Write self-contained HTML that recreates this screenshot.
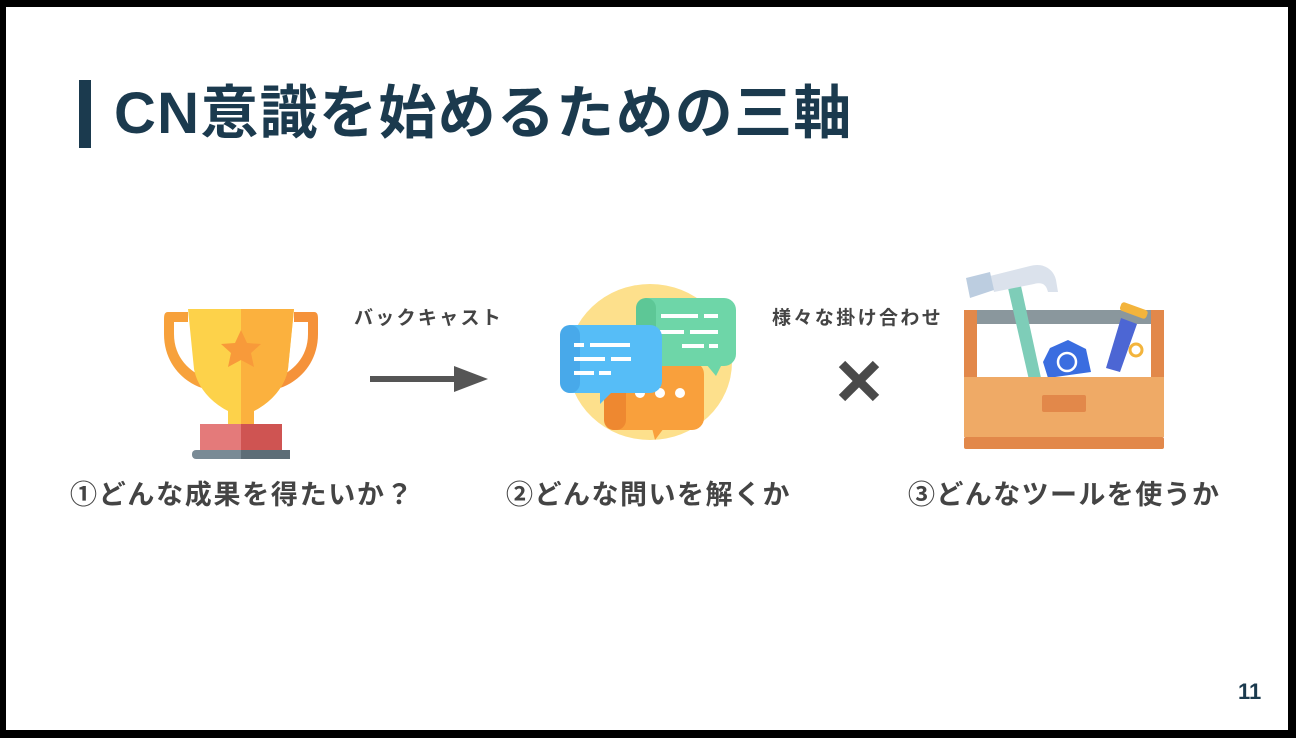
<!DOCTYPE html>
<html><head><meta charset="utf-8"><style>
html,body{margin:0;padding:0;}
body{width:1296px;height:738px;background:#000;position:relative;overflow:hidden;font-family:"Liberation Sans","Noto Sans CJK JP",sans-serif;}
#w{position:absolute;left:6px;top:7px;width:1282px;height:723px;background:#fff;}
.t{position:absolute;white-space:nowrap;}
</style></head><body>
<div id="w"></div>
<div style="position:absolute;left:79px;top:80px;width:12px;height:68px;background:#1b3a4e"></div>
<div class="t" style="left:114px;top:78px;font-size:58px;font-weight:bold;color:#1b3a4e;line-height:72px;letter-spacing:1.3px">CN意識を始めるための三軸</div>

<div class="t" style="left:354px;top:306px;font-size:19px;font-weight:bold;color:#444;line-height:26px;letter-spacing:2.3px">バックキャスト</div>
<div class="t" style="left:772px;top:306px;font-size:19px;font-weight:bold;color:#444;line-height:26px;letter-spacing:2.4px">様々な掛け合わせ</div>

<svg style="position:absolute;left:0;top:0" width="1296" height="738">
 <rect x="370" y="376" width="90" height="6" fill="#555"/>
 <polygon points="454,366 488,379 454,392" fill="#555"/>
 <g stroke="#4a4a4a" stroke-width="9"><line x1="842" y1="364" x2="876" y2="398"/><line x1="876" y1="364" x2="842" y2="398"/></g>
 <!-- trophy -->
 <path d="M188,312 h-20 c-4,0 -4,4 -4,8 v14 c0,30 20,48 38,54 l4,-10 c-16,-6 -32,-20 -32,-44 v-12 h14 z" fill="#f7a13b"/>
 <path d="M294,312 h20 c4,0 4,4 4,8 v14 c0,30 -20,48 -38,54 l-4,-10 c16,-6 32,-20 32,-44 v-12 h-14 z" fill="#f5923a"/>
 <path d="M188,309 h106 l-6,60 c-4,22 -22,36 -34,42 v14 c0,6 16,6 16,14 v10 h-58 v-10 c0,-8 16,-8 16,-14 v-14 c-12,-6 -30,-20 -34,-42 z" fill="#fdd24a"/>
 <path d="M241,309 h53 l-6,60 c-4,22 -22,36 -34,42 v14 c0,6 16,6 16,14 v10 h-29 z" fill="#fbb13e"/>
 <polygon points="241,330 247,343 261,344 251,353 254,367 241,360 228,367 231,353 221,344 235,343" fill="#f89a3a"/>
 <rect x="200" y="424" width="82" height="28" fill="#e47a7a"/>
 <rect x="241" y="424" width="41" height="28" fill="#cf5452"/>
 <rect x="192" y="450" width="98" height="9" rx="4" fill="#798a95"/>
 <rect x="241" y="450" width="49" height="9" fill="#5d6d77"/>
 <!-- chat -->
 <ellipse cx="650" cy="362" rx="82" ry="78" fill="#fde08c"/>
 <rect x="604" y="362" width="100" height="68" rx="12" fill="#f9a03c"/>
 <rect x="604" y="362" width="22" height="68" rx="10" fill="#ee8830"/>
 <polygon points="652,428 664,428 655,440" fill="#f9a03c"/>
 <circle cx="640" cy="393" r="5" fill="#fff"/><circle cx="660" cy="393" r="5" fill="#fff"/><circle cx="680" cy="393" r="5" fill="#fff"/>
 <rect x="636" y="298" width="100" height="68" rx="12" fill="#6ed6a8"/>
 <rect x="636" y="298" width="20" height="68" rx="10" fill="#5dc796"/>
 <polygon points="706,364 722,364 716,376" fill="#6ed6a8"/>
 <g fill="#fff"><rect x="661" y="314" width="37" height="4"/><rect x="704" y="314" width="14" height="4"/><rect x="660" y="330" width="24" height="4"/><rect x="690" y="330" width="28" height="4"/><rect x="682" y="344" width="22" height="4"/><rect x="709" y="344" width="9" height="4"/></g>
 <rect x="560" y="325" width="102" height="68" rx="12" fill="#56bdf7"/>
 <rect x="560" y="325" width="20" height="68" rx="10" fill="#48a9ea"/>
 <polygon points="600,392 612,392 600,404" fill="#56bdf7"/>
 <g fill="#fff"><rect x="574" y="343" width="10" height="4"/><rect x="590" y="343" width="40" height="4"/><rect x="574" y="357" width="31" height="4"/><rect x="611" y="357" width="20" height="4"/><rect x="574" y="371" width="20" height="4"/><rect x="599" y="371" width="12" height="4"/></g>
 <!-- toolbox -->
 <rect x="964" y="310" width="200" height="70" fill="#fff"/>
 <rect x="964" y="310" width="200" height="14" fill="#8a979d"/>
 <rect x="964" y="310" width="13" height="70" fill="#e2884a"/>
 <rect x="1151" y="310" width="13" height="70" fill="#e2884a"/>
 <polygon points="1008,288 1021,286 1041,378 1029,380" fill="#7ecdb8"/>
 <path d="M990,276 L1030,266 c14,-4 24,4 26,14 l2,12 h-10 c-2,-8 -6,-10 -14,-8 l-40,8 z" fill="#dbe2ec"/>
 <polygon points="966,278 990,272 994,290 970,298" fill="#bccde0"/>
 <polygon points="1068,340 1086,349 1091,372 1048,378 1043,362 1050,348" fill="#3a6de0"/>
 <circle cx="1067" cy="362" r="9" fill="none" stroke="#fff" stroke-width="2.5"/>
 <polygon points="1121,318 1137,324 1120,372 1106,368" fill="#4c66d4"/>
 <rect x="1120" y="306" width="28" height="9" rx="3" fill="#f3b43c" transform="rotate(20 1134 310)"/>
 <circle cx="1136" cy="350" r="6" fill="none" stroke="#f3b43c" stroke-width="3"/>
 <rect x="964" y="377" width="200" height="60" fill="#efaa66"/>
 <rect x="964" y="437" width="200" height="12" rx="2" fill="#e2884a"/>
 <rect x="1042" y="395" width="44" height="17" rx="2" fill="#e2884a"/>
</svg>

<div class="t" style="left:70px;top:476px;font-size:27px;font-weight:bold;color:#444;line-height:38px;letter-spacing:1.7px">①どんな成果を得たいか？</div>
<div class="t" style="left:506px;top:476px;font-size:27px;font-weight:bold;color:#444;line-height:38px;letter-spacing:1.5px">②どんな問いを解くか</div>
<div class="t" style="left:908px;top:476px;font-size:27px;font-weight:bold;color:#444;line-height:38px;letter-spacing:1.4px">③どんなツールを使うか</div>
<div class="t" style="left:1238px;top:678px;font-size:22px;font-weight:bold;color:#1b3a4e;line-height:28px">11</div>
</body></html>
